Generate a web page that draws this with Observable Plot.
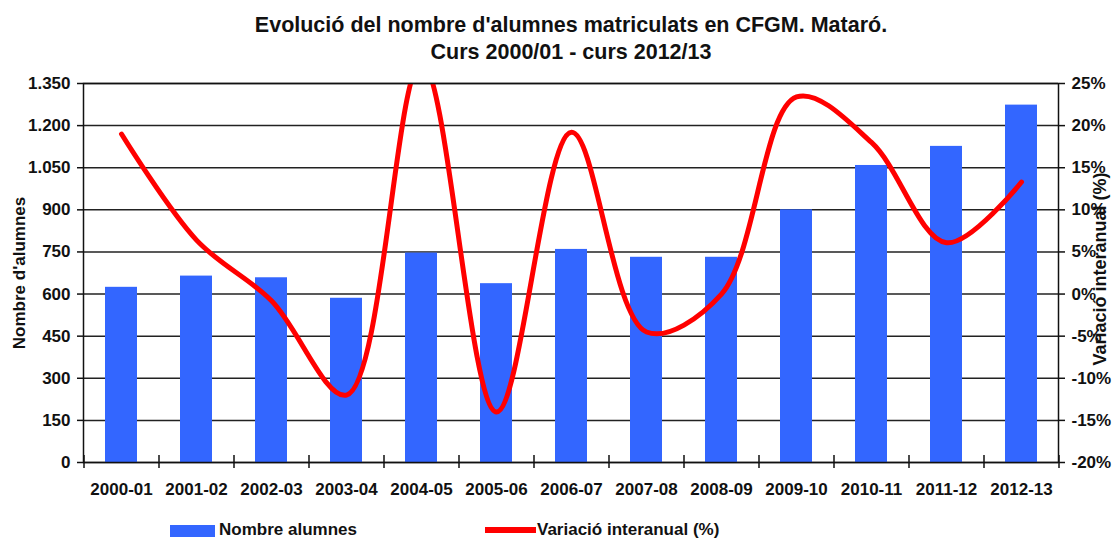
<!DOCTYPE html>
<html>
<head>
<meta charset="utf-8">
<script src="https://cdn.jsdelivr.net/npm/d3@7"></script>
<script src="https://cdn.jsdelivr.net/npm/@observablehq/plot@0.6"></script>
<style>
  html, body { margin: 0; padding: 0; background: #fff; }
  body { width: 1119px; height: 540px; position: relative; overflow: hidden;
         font-family: "Liberation Sans", Arial, sans-serif; color: #111; }
  #title { position: absolute; left: 0; top: 12px; width: 1119px; box-sizing: border-box;
           padding-left: 23px; text-align: center; font-weight: bold; font-size: 21.5px; line-height: 27px; }
  #chart { position: absolute; left: 0; top: 70px; }
  .sw { position: absolute; }
  .lg { position: absolute; font-weight: bold; font-size: 17px; line-height: 20px; }
</style>
</head>
<body>
<div id="title">Evolució del nombre d'alumnes matriculats en CFGM. Mataró.<br>Curs 2000/01 - curs 2012/13</div>
<div id="chart"></div>
<div class="sw" style="left:170px;top:525px;width:45px;height:12px;background:#3366ff"></div>
<div class="lg" style="left:219px;top:520px;">Nombre alumnes</div>
<div class="sw" style="left:485px;top:527px;width:51px;height:6px;background:#ff0000"></div>
<div class="lg" style="left:537px;top:520px;">Variació interanual (%)</div>
<script>
const cats = ["2000-01","2001-02","2002-03","2003-04","2004-05","2005-06","2006-07","2007-08","2008-09","2009-10","2010-11","2011-12","2012-13"];
const alumnes = [624, 664, 658, 585, 746, 637, 759, 731, 731, 900, 1058, 1126, 1273];
const variacio = [19.0, 6.4, -0.8, -12.0, 27.5, -14.0, 19.2, -4.5, 0.0, 23.4, 18.0, 6.1, 13.3];
const leftTicks = [0, 150, 300, 450, 600, 750, 900, 1050, 1200, 1350];
const rightTicks = [-20, -15, -10, -5, 0, 5, 10, 15, 20, 25];

const W = 1119, H = 440, ML = 83, MR = 61, MT = 13, MB = 48;
const step = (W - ML - MR) / cats.length;
const rMin = rightTicks[0], rMax = rightTicks[rightTicks.length - 1];
const lMax = leftTicks[leftTicks.length - 1];
const toLeft = v => (v - rMin) / (rMax - rMin) * lMax;
const fromLeft = y => y / lMax * (rMax - rMin) + rMin;
const fmt = d3.formatLocale({decimal: ",", thousands: ".", grouping: [3], currency: ["", "€"]}).format(",d");

const data = cats.map((c, i) => ({cat: c, alumnes: alumnes[i], v: variacio[i]}));

const chart = Plot.plot({
  width: W, height: H,
  marginLeft: ML, marginRight: MR, marginTop: MT, marginBottom: MB,
  x: {domain: cats, paddingInner: 0.58, paddingOuter: 0.29, align: 0.5},
  y: {domain: [0, lMax]},
  style: {fontFamily: "'Liberation Sans', Arial, sans-serif", fontWeight: "bold", fontSize: "17px", color: "#111", background: "white"},
  marks: [
    Plot.ruleY(leftTicks, {stroke: "#222", strokeWidth: 1.5}),
    Plot.barY(data, {x: "cat", y: "alumnes", fill: "#3366ff"}),
    Plot.line(data, {x: "cat", y: d => toLeft(d.v), stroke: "#ff0000", strokeWidth: 5, curve: "catmull-rom", clip: true}),
    Plot.frame({stroke: "#111", strokeWidth: 1.5}),
    Plot.axisY({ticks: leftTicks, tickFormat: fmt, tickSize: 6, tickPadding: 7, label: null, strokeWidth: 1.5}),
    Plot.axisY({anchor: "right", ticks: rightTicks.map(toLeft), tickFormat: y => Math.round(fromLeft(y)) + "%", tickSize: 6, tickPadding: 7, label: null, strokeWidth: 1.5}),
    Plot.axisX({tickSize: 0, tickPadding: 20, label: null}),
    Plot.axisX({ticks: cats, tickSize: 13, tickFormat: () => "", dx: -step / 2, dy: -7, label: null, strokeWidth: 1.5}),
    Plot.axisX({ticks: [cats[cats.length - 1]], tickSize: 13, tickFormat: () => "", dx: step / 2, dy: -7, label: null, strokeWidth: 1.5}),
    Plot.text(["Nombre d'alumnes"], {frameAnchor: "left", dx: -64, rotate: -90, textAnchor: "middle", lineAnchor: "middle", fontSize: 17, fontWeight: "bold"}),
    Plot.text(["Variació interanual (%)"], {frameAnchor: "right", dx: 42, dy: -4, rotate: -90, textAnchor: "middle", lineAnchor: "middle", fontSize: 18, fontWeight: "bold"})
  ]
});
document.getElementById("chart").appendChild(chart);
</script>
</body>
</html>
